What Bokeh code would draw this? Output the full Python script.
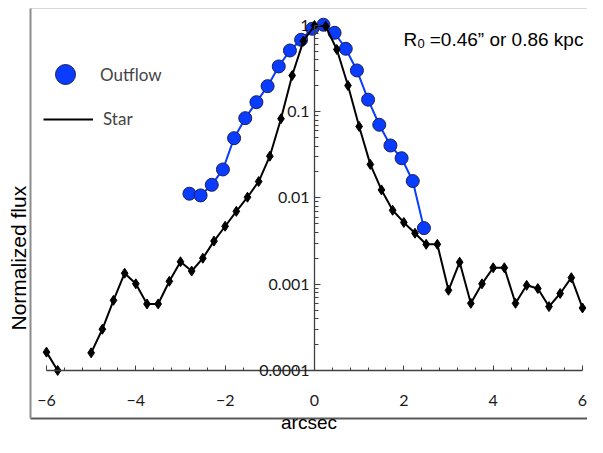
from bokeh.plotting import figure
from bokeh.models import (LinearAxis, LogAxis, FixedTicker, Range1d, Legend,
                          LegendItem, Label, Title, ColumnDataSource)
from bokeh.embed import file_html
from bokeh.resources import INLINE

nan = float("nan")

# ---- data ----
star_x = [-6.0, -5.75, -5.5, -5.25, -5.0, -4.75, -4.5, -4.25, -4.0, -3.75, -3.5,
          -3.25, -3.0, -2.75, -2.5, -2.25, -2.0, -1.75, -1.5, -1.25, -1.0, -0.75,
          -0.5, -0.25, 0.0, 0.25, 0.5, 0.75, 1.0, 1.25, 1.5, 1.75, 2.0, 2.25, 2.5,
          2.75, 3.0, 3.25, 3.5, 3.75, 4.0, 4.25, 4.5, 4.75, 5.0, 5.25, 5.5, 5.75, 6.0]
star_flux = [1.63e-4, 1.0e-4, nan, nan, 1.6e-4, 3.0e-4, 6.5e-4, 1.34e-3, 1.01e-3, 5.9e-4, 5.9e-4,
             1.08e-3, 1.82e-3, 1.42e-3, 2.0e-3, 3.16e-3, 4.7e-3, 7.0e-3, 0.0102, 0.0155, 0.0305, 0.083,
             0.263, 0.658, 1.0, 0.98, 0.527, 0.201, 0.0675, 0.0245, 0.0124, 7.2e-3, 5.2e-3, 3.9e-3, 2.9e-3,
             2.9e-3, 8.5e-4, 1.8e-3, 6.0e-4, 1.01e-3, 1.55e-3, 1.55e-3, 6.0e-4, 9.7e-4, 8.9e-4, 5.5e-4,
             7.8e-4, 1.19e-3, 5.3e-4]

outflow_x = [-2.8, -2.55, -2.3, -2.05, -1.8, -1.55, -1.3, -1.05, -0.8, -0.55, -0.3,
             -0.05, 0.2, 0.45, 0.7, 0.95, 1.2, 1.45, 1.7, 1.95, 2.2, 2.45]
outflow_flux = [0.0112, 0.0107, 0.0142, 0.0214, 0.0493, 0.0842, 0.129, 0.198, 0.335, 0.513, 0.683,
                0.916, 1.02, 0.823, 0.537, 0.301, 0.138, 0.0706, 0.0406, 0.0289, 0.0157, 0.00447]

x_ticks = [-6, -4, -2, 0, 2, 4, 6]
y_ticks = [0.0001, 0.001, 0.01, 0.1, 1]
y_tick_labels = ["0.0001", "0.001", "0.01", "0.1", "1"]

x_minor = [round(-6 + 0.4 * i, 1) for i in range(31)]
x_minor = [v for v in x_minor if v not in x_ticks]
y_minor = [m * d for d in [0.0001, 0.001, 0.01, 0.1] for m in range(2, 10)]

BLUE = "#0a3cff"
AXIS = "#404040"
TICKFONT = "Lato"
TITLEFONT = "Liberation Sans"

p = figure(width=587, height=437,
           x_range=Range1d(-6.358, 6.112), y_range=Range1d(2.77e-5, 1.574),
           y_axis_type="log", x_axis_location=None, y_axis_location=None,
           output_backend="svg", toolbar_location=None,
           min_border_left=30, min_border_right=0, min_border_top=8, min_border_bottom=19)
p.outline_line_color = None
p.background_fill_color = "white"
p.border_fill_color = "white"
for g in p.grid:
    g.visible = False

out_src = ColumnDataSource(dict(x=outflow_x, y=outflow_flux))
star_src = ColumnDataSource(dict(x=star_x, y=star_flux))

out_line = p.line("x", "y", source=out_src, line_color=BLUE, line_width=2)
out_pts = p.scatter("x", "y", source=out_src, marker="circle", size=13,
                    fill_color=BLUE, line_color="#1b1f55", line_width=1)
star_line = p.line("x", "y", source=star_src, line_color="black", line_width=2)
star_pts = p.scatter("x", "y", source=star_src, marker="diamond", size=10,
                     fill_color="black", line_color="black")

# main x axis crossing at 0.0001
xaxis = LinearAxis(fixed_location=0.0001, bounds=(-6, 6),
                   ticker=FixedTicker(ticks=x_ticks, minor_ticks=x_minor),
                   major_tick_in=5, major_tick_out=0, minor_tick_in=3, minor_tick_out=0,
                   axis_line_color=AXIS, axis_line_width=1.3,
                   major_tick_line_color=AXIS, minor_tick_line_color=AXIS,
                   major_label_text_font=TICKFONT, major_label_text_font_size="16px",
                   major_label_text_color="#1a1a1a", major_label_standoff=25)
p.add_layout(xaxis, "below")

# main y axis at x = 0
yaxis = LogAxis(fixed_location=0, bounds=(0.0001, 1),
                ticker=FixedTicker(ticks=y_ticks, minor_ticks=y_minor),
                major_label_overrides=dict(zip(y_ticks, y_tick_labels)),
                major_tick_in=6, major_tick_out=0, minor_tick_in=4, minor_tick_out=0,
                axis_line_color=AXIS, axis_line_width=1.3,
                major_tick_line_color=AXIS, minor_tick_line_color=AXIS,
                major_label_text_font=TICKFONT, major_label_text_font_size="16px",
                major_label_text_color="#1a1a1a", major_label_standoff=5)
p.add_layout(yaxis, "left")


def bare_axis(cls, label=None, color=None, width=1, size="20px", standoff=0):
    return cls(ticker=FixedTicker(ticks=[]), axis_label=label,
               axis_line_color=color, axis_line_width=width,
               major_tick_in=0, major_tick_out=0, minor_tick_in=0, minor_tick_out=0,
               major_label_standoff=0, major_label_text_font_size="0px",
               axis_label_text_font=TITLEFONT, axis_label_text_font_size=size,
               axis_label_text_font_style="normal", axis_label_text_color="black",
               axis_label_standoff=standoff)


# plot-area border lines
p.add_layout(bare_axis(LogAxis, color="#8c8c8c", width=2), "left")
p.add_layout(bare_axis(LinearAxis, color="#595959", width=2), "below")
p.add_layout(bare_axis(LinearAxis, color="#d9d9d9", width=1), "above")
# axis titles
p.add_layout(Title(text="Normalized flux", align="left", offset=88, standoff=2,
                   text_font=TITLEFONT, text_font_size="21px", text_font_style="normal",
                   text_color="black"), "left")
p.add_layout(bare_axis(LinearAxis, label="arcsec", size="19px", standoff=-7), "below")

# legends
leg1 = Legend(items=[LegendItem(label="Outflow", renderers=[out_pts])],
              location=(10, 319), glyph_width=50, glyph_height=50, padding=0, margin=0,
              spacing=0, border_line_color=None, background_fill_alpha=0,
              label_text_font=TICKFONT, label_text_font_size="17px", label_standoff=10)
leg2 = Legend(items=[LegendItem(label="Star", renderers=[star_line])],
              location=(13, 289), glyph_width=50, glyph_height=20, padding=0, margin=0,
              spacing=0, border_line_color=None, background_fill_alpha=0,
              label_text_font=TICKFONT, label_text_font_size="17px", label_standoff=10)
p.add_layout(leg1)
p.add_layout(leg2)

# annotation
p.add_layout(Label(x=1.99, y=0.683, text="R", text_font=TITLEFONT, text_font_size="19px",
                   text_baseline="alphabetic", text_align="left", text_color="black"))
p.add_layout(Label(x=2.305, y=0.613, text="0", text_font=TITLEFONT, text_font_size="13px",
                   text_baseline="alphabetic", text_align="left", text_color="black"))
p.add_layout(Label(x=2.58, y=0.683, text="=0.46\u201d or 0.86 kpc", text_font=TITLEFONT,
                   text_font_size="19px", text_baseline="alphabetic", text_align="left",
                   text_color="black"))

open("out.html", "w").write(file_html(p, INLINE))
